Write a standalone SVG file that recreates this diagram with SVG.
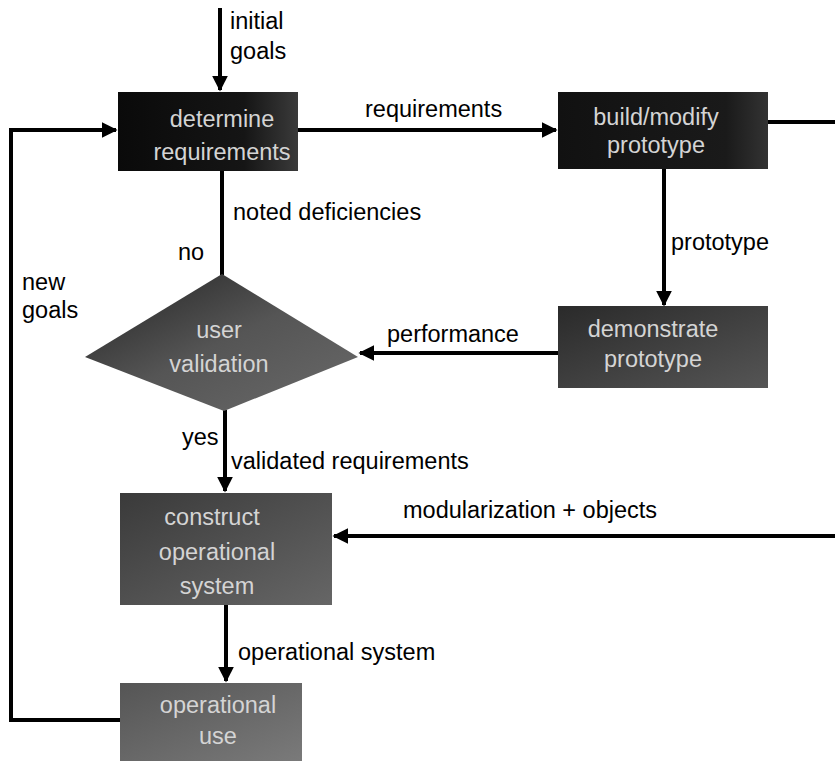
<svg xmlns="http://www.w3.org/2000/svg" width="835" height="761" viewBox="0 0 835 761">
<style>
.lbl{font-family:"Liberation Sans",Arial,sans-serif;font-size:23.5px;fill:#000}
.nt{font-family:"Liberation Sans",Arial,sans-serif;font-size:23.5px;fill:#d4d4d4;text-anchor:middle}
.ln{fill:none;stroke:#000;stroke-width:4}
</style>
<defs>
<marker id="ah" viewBox="0 0 10 10" refX="9" refY="5" markerWidth="4" markerHeight="4" orient="auto" markerUnits="strokeWidth">
<path d="M0,0 L10,5 L0,10 Z" fill="#000"/>
</marker>
<linearGradient id="g1" x1="0" y1="0" x2="1" y2="0"><stop offset="0" stop-color="#0a0a0a"/><stop offset="0.7" stop-color="#151515"/><stop offset="1" stop-color="#3a3a3a"/></linearGradient>
<linearGradient id="g2" x1="0" y1="0" x2="1" y2="0"><stop offset="0" stop-color="#111"/><stop offset="0.8" stop-color="#1a1a1a"/><stop offset="1" stop-color="#333"/></linearGradient>
<linearGradient id="g3" x1="0" y1="0" x2="1" y2="1"><stop offset="0" stop-color="#2a2a2a"/><stop offset="1" stop-color="#555"/></linearGradient>
<linearGradient id="g4" x1="0" y1="0" x2="1" y2="1"><stop offset="0" stop-color="#222"/><stop offset="0.5" stop-color="#555"/><stop offset="1" stop-color="#6a6a6a"/></linearGradient>
<linearGradient id="g5" x1="0" y1="0" x2="1" y2="1"><stop offset="0" stop-color="#3a3a3a"/><stop offset="1" stop-color="#666"/></linearGradient>
<linearGradient id="g6" x1="0" y1="0" x2="1" y2="1"><stop offset="0" stop-color="#555"/><stop offset="1" stop-color="#7a7a7a"/></linearGradient>
</defs>

<g id="connectors">
<line class="ln" x1="220" y1="8" x2="220" y2="90" marker-end="url(#ah)"/>
<line class="ln" x1="298" y1="130" x2="556" y2="130" marker-end="url(#ah)"/>
<line class="ln" x1="768" y1="122" x2="835" y2="122"/>
<line class="ln" x1="664" y1="169" x2="664" y2="305" marker-end="url(#ah)"/>
<line class="ln" x1="558" y1="353" x2="360" y2="353" marker-end="url(#ah)"/>
<line class="ln" x1="222" y1="171" x2="222" y2="275"/>
<line class="ln" x1="225" y1="410" x2="225" y2="491" marker-end="url(#ah)"/>
<line class="ln" x1="835" y1="536" x2="334" y2="536" marker-end="url(#ah)"/>
<line class="ln" x1="226" y1="605" x2="226" y2="681" marker-end="url(#ah)"/>
<polyline class="ln" points="120,720 11,720 11,130 116,130" marker-end="url(#ah)"/>
<text class="lbl" x="230" y="29">initial</text>
<text class="lbl" x="230" y="59">goals</text>
<text class="lbl" x="365" y="117">requirements</text>
<text class="lbl" x="233" y="220">noted deficiencies</text>
<text class="lbl" x="178" y="260">no</text>
<text class="lbl" x="22" y="290">new</text>
<text class="lbl" x="22" y="318">goals</text>
<text class="lbl" x="671" y="250">prototype</text>
<text class="lbl" x="387" y="342">performance</text>
<text class="lbl" x="182" y="445">yes</text>
<text class="lbl" x="231" y="469">validated requirements</text>
<text class="lbl" x="403" y="518">modularization + objects</text>
<text class="lbl" x="238" y="660">operational system</text>
</g>

<g id="determine-requirements">
<rect x="118" y="92" width="180" height="79" fill="url(#g1)"/>
<text class="nt" x="222" y="127">determine</text>
<text class="nt" x="222" y="160">requirements</text>
</g>

<g id="build-modify-prototype">
<rect x="558" y="92" width="210" height="77" fill="url(#g2)"/>
<text class="nt" x="656" y="125">build/modify</text>
<text class="nt" x="656" y="153">prototype</text>
</g>

<g id="user-validation">
<polygon points="222,274 358,357 224,411 85,357" fill="url(#g4)"/>
<text class="nt" x="219" y="338">user</text>
<text class="nt" x="219" y="372">validation</text>
</g>

<g id="demonstrate-prototype">
<rect x="558" y="306" width="210" height="82" fill="url(#g3)"/>
<text class="nt" x="653" y="337">demonstrate</text>
<text class="nt" x="653" y="367">prototype</text>
</g>

<g id="construct-operational-system">
<rect x="120" y="493" width="212" height="112" fill="url(#g5)"/>
<text class="nt" x="212" y="525">construct</text>
<text class="nt" x="217" y="560">operational</text>
<text class="nt" x="217" y="594">system</text>
</g>

<g id="operational-use">
<rect x="120" y="683" width="182" height="78" fill="url(#g6)"/>
<text class="nt" x="218" y="713">operational</text>
<text class="nt" x="218" y="744">use</text>
</g>
</svg>
